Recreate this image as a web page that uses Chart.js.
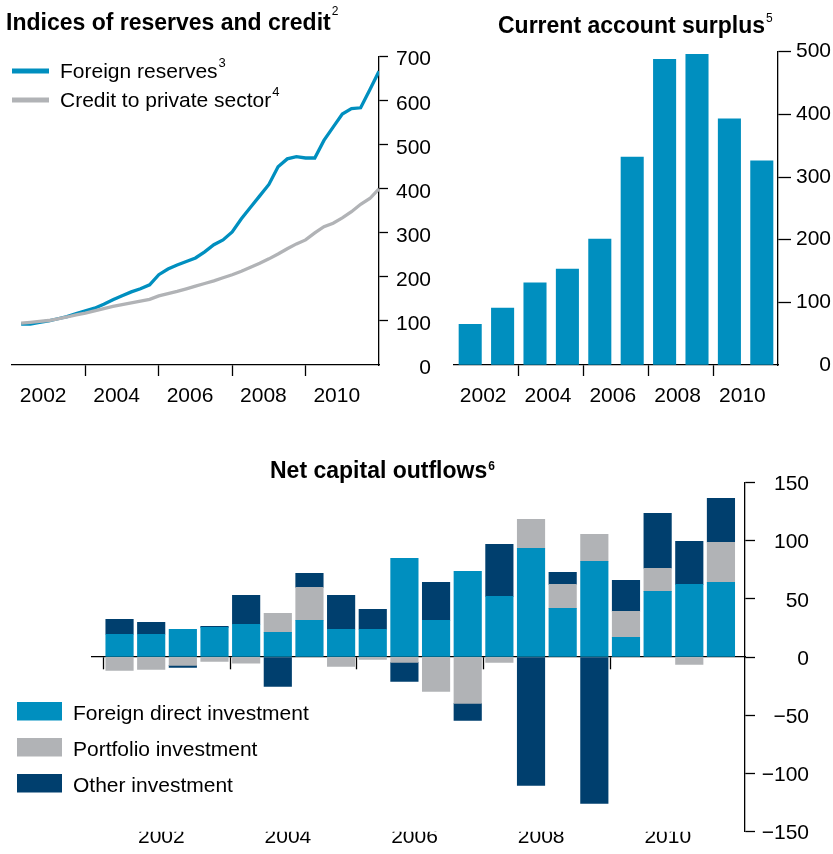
<!DOCTYPE html>
<html>
<head>
<meta charset="utf-8">
<script src="https://cdn.jsdelivr.net/npm/chart.js@4.4.1/dist/chart.umd.min.js"></script>
<style>
  html, body { margin: 0; padding: 0; background: #fff; }
  body { width: 833px; height: 854px; position: relative; overflow: hidden; }
  canvas { position: absolute; }
  #c1 { left: 0; top: 0; }
  #c2 { left: 440px; top: 0; }
  #c3 { left: 0; top: 440px; }
</style>
</head>
<body>
<canvas id="c1" width="440" height="410"></canvas>
<canvas id="c2" width="393" height="410"></canvas>
<canvas id="c3" width="833" height="414"></canvas>
<script>
// ---- data ----
const years = [2002, 2003, 2004, 2005, 2006, 2007, 2008, 2009, 2010, 2011];
const tickYears = [2002, 2004, 2006, 2008, 2010];

// indices, quarterly 2002 Q1 - 2011 Q4
const reserves = [93, 93, 97, 100, 105, 110, 117, 123, 129, 138, 148, 157, 166, 173, 182, 205,
  218, 227, 235, 243, 257, 273, 284, 302, 332, 358, 384, 410, 450, 468, 473, 470,
  470, 510, 540, 570, 582, 584, 625, 667];
const credit = [95, 97, 99, 101, 105, 109, 114, 118, 123, 128, 133, 137, 141, 145, 149, 157,
  162, 167, 173, 179, 185, 191, 198, 205, 213, 222, 231, 241, 252, 264, 275, 284,
  300, 314, 322, 334, 348, 365, 378, 400];

// current account surplus, annual
const surplus = [65, 91, 131, 153, 201, 332, 488, 496, 393, 326];

// net capital outflows, half-yearly 2002 H1 - 2011 H2
const fdi = [19.5, 19.5, 23.8, 25.5, 28.1, 21.2, 31.5, 23.8, 23.8, 84.7,
  31.5, 73.6, 52.1, 93.3, 41.8, 82.2, 16.9, 56.4, 62.4, 64.1];
const portfolio = [-11.5, -10.6, -7.2, -3.7, -5.4, 16.3, 28.3, -8.0, -2.0, -4.6,
  -29.5, -39.8, -4.6, 24.9, 20.6, 23.2, 22.3, 19.8, -6.3, 34.4];
const other = [12.9, 10.3, -1.7, 0.9, 24.9, -25.2, 12.0, 29.2, 17.2, -16.3,
  32.6, -14.6, 44.7, -110.2, 10.3, -125.7, 26.6, 47.2, 36.9, 37.8];

const quarters = [];
years.forEach(y => [1, 2, 3, 4].forEach(q => quarters.push(y + q / 4)));   // quarter ends
const halves = [];
years.forEach(y => [0.25, 0.75].forEach(h => halves.push(y + h)));        // half-year midpoints

const FONT = '"Liberation Sans", Arial, Helvetica, sans-serif';
const BLUE = '#008fbf', GREY = '#b1b3b6', NAVY = '#003f6e';
const AXIS_W = 1.3;
const NONE = 'rgba(0,0,0,0)';
Chart.defaults.font.family = FONT;
Chart.defaults.color = '#000';

// title with footnote marker
const supTitle = {
  id: 'supTitle',
  afterDraw(chart, args, o) {
    const ctx = chart.ctx;
    ctx.save();
    ctx.fillStyle = '#000';
    ctx.textBaseline = 'alphabetic';
    ctx.font = 'bold 23px ' + FONT;
    ctx.fillText(o.text, o.x, o.y);
    const w = ctx.measureText(o.text).width;
    ctx.font = (o.noteBold ? 'bold ' : '') + o.noteSize + 'px ' + FONT;
    ctx.fillText(o.note, o.x + w + 1, o.y - o.raise);
    ctx.restore();
  }
};

// legend drawn from the datasets
const sideLegend = {
  id: 'sideLegend',
  afterDraw(chart, args, o) {
    const ctx = chart.ctx;
    ctx.save();
    const sets = o.order ? o.order.map(i => chart.data.datasets[i]) : chart.data.datasets;
    sets.forEach((ds, i) => {
      const top = o.y + i * o.step;
      if (o.kind === 'line') {
        ctx.strokeStyle = ds.borderColor;
        ctx.lineWidth = 5;
        ctx.beginPath();
        ctx.moveTo(o.x, top);
        ctx.lineTo(o.x + 37, top);
        ctx.stroke();
      } else {
        ctx.fillStyle = ds.backgroundColor;
        ctx.fillRect(o.x, top, 45, 18.5);
      }
      const base = o.kind === 'line' ? top + 6.5 : top + 18.2;
      ctx.fillStyle = '#000';
      ctx.font = '21px ' + FONT;
      ctx.fillText(ds.label, o.textX, base);
      if (ds.note) {
        const w = ctx.measureText(ds.label).width;
        ctx.font = '13px ' + FONT;
        ctx.fillText(ds.note, o.textX + w + 1, base - 10.5);
      }
    });
    ctx.restore();
  }
};

const isYear = c => !!c.tick && Number.isInteger(c.tick.value);

function yearAxis(min, max, shift, height, pad) {
  return {
    type: 'linear', position: 'bottom', min: min, max: max, offset: false,
    afterBuildTicks: s => {
      const t = [];
      tickYears.forEach(y => {
        if (y > min) t.push({ value: y });
        t.push({ value: y + shift });
      });
      s.ticks = t.sort((a, b) => a.value - b.value);
    },
    afterFit: s => { s.height = height; },
    grid: {
      offset: false, drawOnChartArea: false, drawTicks: true, tickLength: 11, tickWidth: AXIS_W,
      tickColor: c => isYear(c) ? '#000' : NONE
    },
    border: { display: true, color: '#000', width: AXIS_W },
    ticks: {
      autoSkip: false, maxRotation: 0, padding: pad, font: { size: 21 },
      callback: v => Number.isInteger(v) ? '' : String(Math.round(v - shift))
    }
  };
}

// right-hand value axis; labels right-aligned on the outer edge of the axis box
function valueAxis(min, max, step, width, tickLen, shiftY, zeroTick) {
  return {
    position: 'right', min: min, max: max,
    afterFit: s => { s.width = width; },
    grid: {
      drawOnChartArea: false, tickLength: tickLen, tickWidth: AXIS_W,
      tickColor: c => (c.tick && c.tick.value === 0 && !zeroTick) ? NONE : '#000'
    },
    border: { color: '#000', width: AXIS_W },
    ticks: {
      stepSize: step, crossAlign: 'far', labelOffset: shiftY, font: { size: 21 },
      callback: v => v < 0 ? '\u2212' + Math.abs(v) : String(v)
    }
  };
}

const common = {
  responsive: false,
  animation: false,
  events: []
};

// ---- indices of reserves and credit ----
new Chart(document.getElementById('c1'), {
  type: 'line',
  data: {
    datasets: [
      { label: 'Credit to private sector', note: '4', borderColor: GREY, borderWidth: 3.3,
        data: credit.map((v, i) => ({ x: quarters[i], y: v })) },
      { label: 'Foreign reserves', note: '3', borderColor: BLUE, borderWidth: 3.3,
        data: reserves.map((v, i) => ({ x: quarters[i], y: v })) }
    ]
  },
  options: Object.assign({}, common, {
    layout: { padding: { left: 12, top: 56.7, right: 9, bottom: 0 } },
    elements: { point: { radius: 0 }, line: { tension: 0 } },
    scales: {
      x: yearAxis(2002, 2012, 0.85, 45, 8),
      y: valueAxis(0, 700, 100, 52, 9, 3, false)
    },
    plugins: {
      legend: { display: false },
      tooltip: { enabled: false },
      supTitle: { text: 'Indices of reserves and credit', note: '2', x: 6, y: 30,
        noteSize: 12, raise: 15 },
      sideLegend: { kind: 'line', x: 12, y: 71, step: 29, textX: 60, order: [1, 0] }
    }
  }),
  plugins: [supTitle, sideLegend]
});

// ---- current account surplus ----
new Chart(document.getElementById('c2'), {
  type: 'bar',
  data: {
    datasets: [{ label: 'Current account surplus', backgroundColor: BLUE, barThickness: 22.4,
      data: surplus.map((v, i) => ({ x: years[i] + 0.5, y: v })) }]
  },
  options: Object.assign({}, common, {
    layout: { padding: { left: 14, top: 51.7, right: 2, bottom: 0 } },
    scales: {
      x: yearAxis(2002, 2012, 0.9, 45, 8),
      y: valueAxis(0, 500, 100, 53, 13, 0, false)
    },
    plugins: {
      legend: { display: false },
      tooltip: { enabled: false },
      supTitle: { text: 'Current account surplus', note: '5', x: 58, y: 33,
        noteSize: 12, raise: 11 }
    }
  }),
  plugins: [supTitle]
});

// ---- net capital outflows ----
const xMin = 2001.815, xMax = 2012.13;
new Chart(document.getElementById('c3'), {
  type: 'bar',
  data: {
    datasets: [
      { label: 'Foreign direct investment', backgroundColor: BLUE, data: fdi.map((v, i) => ({ x: halves[i], y: v })) },
      { label: 'Portfolio investment', backgroundColor: GREY, data: portfolio.map((v, i) => ({ x: halves[i], y: v })) },
      { label: 'Other investment', backgroundColor: NAVY, data: other.map((v, i) => ({ x: halves[i], y: v })) }
    ]
  },
  options: Object.assign({}, common, {
    layout: { padding: { left: 92, top: 42.3, right: 24, bottom: 0 } },
    datasets: { bar: { barThickness: 27.5 } },
    scales: {
      x: {
        type: 'linear', position: { y: 0 }, min: xMin, max: xMax, stacked: true, z: 1, offset: false,
        afterBuildTicks: s => { s.ticks = tickYears.map(v => ({ value: v })); },
        grid: { offset: false, drawOnChartArea: false, drawTicks: true, tickLength: 12, tickWidth: AXIS_W, tickColor: '#000' },
        border: { display: true, color: '#000', width: AXIS_W },
        ticks: { display: false }
      },
      xl: {
        type: 'linear', position: 'bottom', min: xMin, max: xMax, offset: false,
        afterBuildTicks: s => { s.ticks = tickYears.map(v => ({ value: v + 0.91 })); },
        afterFit: s => { s.height = 22.3; },
        grid: { display: false, drawTicks: false, offset: false },
        border: { display: false },
        ticks: { autoSkip: false, maxRotation: 0, padding: -6.8, font: { size: 21 },
          callback: v => String(Math.round(v - 0.91)) }
      },
      y: Object.assign(valueAxis(-150, 150, 50, 64, 10, 2, true), { stacked: true })
    },
    plugins: {
      legend: { display: false },
      tooltip: { enabled: false },
      supTitle: { text: 'Net capital outflows', note: '6', x: 270, y: 38.3,
        noteSize: 12, noteBold: true, raise: 8 },
      sideLegend: { kind: 'box', x: 17, y: 262, step: 36, textX: 73 }
    }
  }),
  plugins: [supTitle, sideLegend]
});
</script>
</body>
</html>
